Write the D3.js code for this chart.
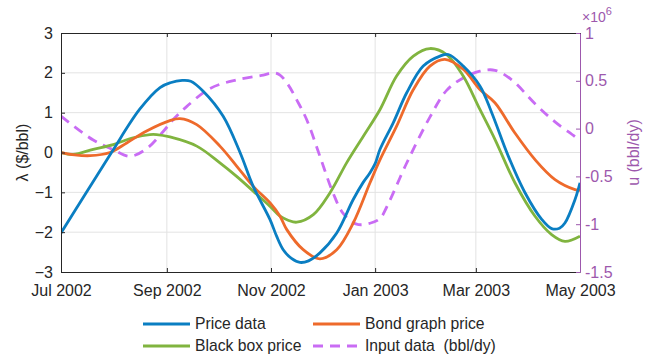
<!DOCTYPE html>
<html><head><meta charset="utf-8">
<script src="https://cdn.jsdelivr.net/npm/d3@7"></script>
<style>body{margin:0;background:#fff}svg{display:block;font-family:"Liberation Sans",Arial,sans-serif}</style>
</head><body><svg id="c" width="651" height="356"></svg>
<script>
// Data: day offsets from 1 Jul 2002
const startDate = "2002-07-01";
const priceDays = [0,14,29.6,46,58,64,71,76,83.3,95,104.9,112.6,122.4,126.3,130.2,135,140,145,151.7,161.5,171.2,177,181,184,186.9,194.7,202.5,212.2,222,226.9,235.6,245.4,252.3,262,271.8,281.6,287.4,292,295.2,301.1,304];
const priceVals = [-2.02,-1.06,0,1.08,1.63,1.75,1.81,1.79,1.54,0.91,0,-0.85,-1.68,-2.1,-2.44,-2.66,-2.76,-2.72,-2.52,-2.02,-1.18,-0.75,-0.51,-0.28,0.08,0.75,1.5,2.17,2.42,2.46,2.17,1.67,1.0,-0.09,-1.01,-1.68,-1.91,-1.9,-1.77,-1.18,-0.76];
const bondDays = [0,8,17,28.7,38.5,50.2,63.8,69.7,79.5,93.1,102.9,112.6,122.4,128.3,132.2,141.9,151.7,161.5,171.2,181,186.9,196.6,206.4,216.1,224.9,235.6,245.4,254.2,265.9,277.7,289.4,301.1,304];
const bondVals = [0,-0.06,-0.08,0,0.24,0.54,0.80,0.85,0.70,0.16,-0.34,-0.85,-1.26,-1.6,-1.93,-2.44,-2.67,-2.44,-1.77,-0.76,-0.18,0.66,1.58,2.17,2.34,2.09,1.58,1.25,0.49,-0.18,-0.68,-0.93,-0.95];
const boxDays = [0,7.2,18.9,30.6,42.3,52.1,56,63.8,79.5,93.1,102.9,112.6,122.4,128.3,133,138.1,147.8,157.6,167.3,177.1,186.9,196.6,206.4,216.1,225.9,235.6,245.4,254.2,265.9,277.7,287.4,295.2,304];
const boxVals = [0,-0.05,0.08,0.2,0.37,0.45,0.45,0.39,0.16,-0.26,-0.6,-0.97,-1.35,-1.6,-1.7,-1.75,-1.56,-1.01,-0.26,0.41,1.08,1.92,2.42,2.61,2.46,1.92,1.08,0.33,-0.76,-1.6,-2.06,-2.23,-2.1];
const inputDays = [0,18.9,30.6,40.4,50.2,59.9,66,73.6,87.3,102.9,118.5,124.4,128.3,133,138.1,144,151.7,159.5,165.4,173.2,181,186.9,190.8,202.5,216.1,225.9,235.6,245.4,254.2,264,277.7,289.4,301.1,304];
const inputVals = [0.13,-0.12,-0.22,-0.29,-0.21,-0.03,0.1,0.23,0.42,0.51,0.56,0.585,0.56,0.46,0.30,0.09,-0.29,-0.68,-0.89,-1.0,-0.99,-0.94,-0.82,-0.36,0.12,0.40,0.53,0.60,0.61,0.51,0.26,0.07,-0.085,-0.13];
const xTickDates = ["2002-07-01","2002-09-01","2002-11-01","2003-01-01","2003-03-01","2003-05-01"];
const leftTicks = [-3,-2,-1,0,1,2,3];
const rightTicks = [-1.5,-1,-0.5,0,0.5,1];
const seriesNames = ["Price data","Bond graph price","Black box price","Input data  (bbl/dy)"];
const seriesColors = ["#0a7ec2","#ee6a2b","#80b43f","#c96cf4"];

const svg = d3.select("#c");
const M = {l:61, r:580, t:33, b:272};
const parse = d3.timeParse("%Y-%m-%d");
const t0 = parse(startDate);
const toDate = d => d3.timeHour.offset(t0, d*24);
const x = d3.scaleTime().domain([parse(xTickDates[0]), parse(xTickDates[xTickDates.length-1])]).range([M.l, M.r]);
const yL = d3.scaleLinear().domain([-3,3]).range([M.b, M.t]);
const yR = d3.scaleLinear().domain([-1.5,1]).range([M.b, M.t]);
const axisPurple = "#9d58ad";
const fmt = d3.timeFormat("%b %Y");
const FF = "Liberation Sans, Arial, sans-serif";

// grid
const g = svg.append("g");
g.selectAll("line.gx").data(xTickDates.slice(1,-1)).join("line")
  .attr("x1", d=>x(parse(d))).attr("x2", d=>x(parse(d))).attr("y1", M.t).attr("y2", M.b)
  .attr("stroke","#e3e3e3").attr("stroke-width",1);
g.selectAll("line.gy").data(leftTicks.slice(1,-1)).join("line")
  .attr("x1", M.l).attr("x2", M.r).attr("y1", d=>yL(d)).attr("y2", d=>yL(d))
  .attr("stroke","#e3e3e3").attr("stroke-width",1);

// curves
const mk = (days, vals, ys) => days.map((d,i)=>[x(toDate(d)), ys(vals[i])]);
const line = d3.line().curve(d3.curveCatmullRom.alpha(0.5));
svg.append("clipPath").attr("id","cp").append("rect")
  .attr("x",M.l).attr("y",M.t).attr("width",M.r-M.l).attr("height",M.b-M.t);
const cg = svg.append("g").attr("clip-path","url(#cp)");
const SW = 2.8;
cg.append("path").attr("d", line(mk(inputDays,inputVals,yR))).attr("fill","none")
  .attr("stroke",seriesColors[3]).attr("stroke-width",SW).attr("stroke-dasharray","10,7");
cg.append("path").attr("d", line(mk(boxDays,boxVals,yL))).attr("fill","none")
  .attr("stroke",seriesColors[2]).attr("stroke-width",SW);
cg.append("path").attr("d", line(mk(bondDays,bondVals,yL))).attr("fill","none")
  .attr("stroke",seriesColors[1]).attr("stroke-width",SW);
cg.append("path").attr("d", line(mk(priceDays,priceVals,yL))).attr("fill","none")
  .attr("stroke",seriesColors[0]).attr("stroke-width",SW);

// axes
const fs = 16;
const axB = svg.append("g").attr("transform",`translate(0,${M.b})`)
  .call(d3.axisBottom(x).tickValues(xTickDates.map(parse)).tickFormat(fmt).tickSizeInner(-4).tickSizeOuter(0).tickPadding(13));
axB.select(".domain").attr("stroke","#262626");
axB.selectAll(".tick line").attr("stroke","#262626");
axB.selectAll("text").attr("font-size",fs).attr("fill","#262626").attr("font-family",FF);
const axT = svg.append("g").attr("transform",`translate(0,${M.t})`)
  .call(d3.axisTop(x).tickValues(xTickDates.map(parse)).tickFormat("").tickSizeInner(-4).tickSizeOuter(0));
axT.select(".domain").attr("stroke","#262626");
axT.selectAll(".tick line").attr("stroke","#262626");

const axL = svg.append("g").attr("transform",`translate(${M.l},0)`)
  .call(d3.axisLeft(yL).tickValues(leftTicks).tickFormat(d3.format("d")).tickSizeInner(-4).tickSizeOuter(0).tickPadding(8));
axL.select(".domain").attr("stroke","#262626");
axL.selectAll(".tick line").attr("stroke","#262626");
axL.selectAll("text").attr("font-size",fs).attr("fill","#262626").attr("font-family",FF);

const axR = svg.append("g").attr("transform",`translate(${M.r},0)`)
  .call(d3.axisRight(yR).tickValues(rightTicks).tickFormat(d=>String(d)).tickSizeInner(-4).tickSizeOuter(0).tickPadding(5));
axR.select(".domain").attr("stroke",axisPurple);
axR.selectAll(".tick line").attr("stroke",axisPurple);
axR.selectAll("text").attr("font-size",fs).attr("fill",axisPurple).attr("font-family",FF);

// axis labels
svg.append("text").attr("transform",`translate(28,${(M.t+M.b)/2}) rotate(-90)`).attr("text-anchor","middle")
  .attr("font-size",16).attr("fill","#262626").text("λ ($/bbl)");
svg.append("text").attr("transform",`translate(633,${(M.t+M.b)/2}) rotate(-90)`).attr("text-anchor","middle")
  .attr("font-size",16).attr("fill",axisPurple).attr("dy","0.35em").text("u (bbl/dy)");
const ex = svg.append("text").attr("x",582).attr("y",22).attr("font-size",14).attr("fill",axisPurple);
ex.append("tspan").text("×10");
ex.append("tspan").attr("font-size",11).attr("dy",-7).text("6");

// legend
const leg = [
  {name:seriesNames[0], c:seriesColors[0], x:143, y:324, dash:null},
  {name:seriesNames[1], c:seriesColors[1], x:313, y:324, dash:null},
  {name:seriesNames[2], c:seriesColors[2], x:143, y:346, dash:null},
  {name:seriesNames[3], c:seriesColors[3], x:313, y:346, dash:"10,7"}
];
const lg = svg.append("g");
leg.forEach(d=>{
  lg.append("line").attr("x1",d.x).attr("x2",d.x+47).attr("y1",d.y).attr("y2",d.y)
    .attr("stroke",d.c).attr("stroke-width",SW).attr("stroke-dasharray",d.dash);
  lg.append("text").attr("x",d.x+52).attr("y",d.y).attr("dy","0.35em").attr("font-size",15.7)
    .attr("fill","#262626").attr("font-family",FF).style("white-space","pre").text(d.name);
});
</script></body></html>
